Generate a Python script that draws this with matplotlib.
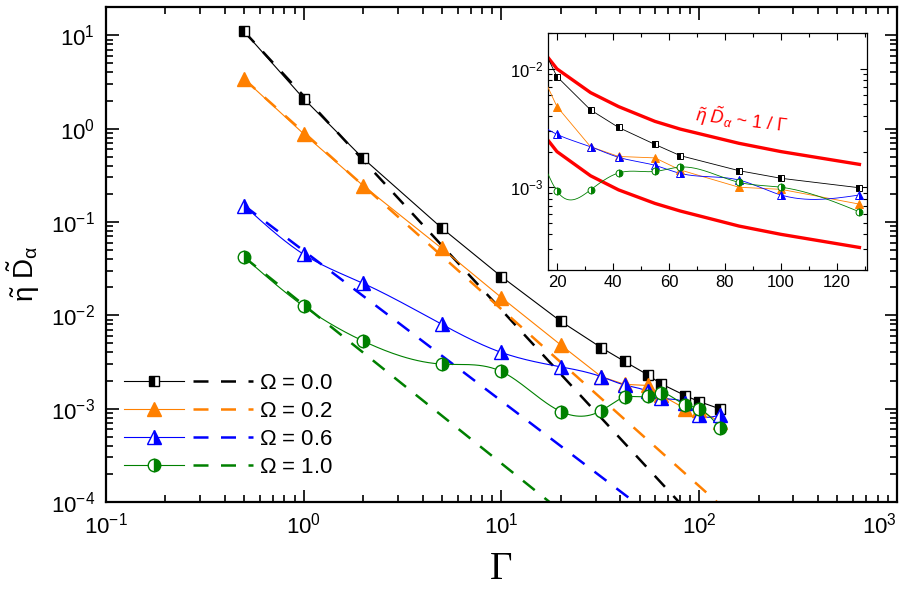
import numpy as np
import matplotlib
matplotlib.use("Agg")
import matplotlib.pyplot as plt
from matplotlib.lines import Line2D
from matplotlib.legend_handler import HandlerTuple
from matplotlib.ticker import MultipleLocator, LogLocator, NullFormatter

plt.rcParams["font.family"] = ["Liberation Sans", "DejaVu Sans"]
plt.rcParams["mathtext.fontset"] = "custom"
plt.rcParams["mathtext.rm"] = "Liberation Sans"
plt.rcParams["mathtext.it"] = "Liberation Sans:italic"
plt.rcParams["mathtext.default"] = "regular"

# data
gamma = [0.5, 1, 2, 5, 10, 20, 32, 42, 55, 64, 85, 100, 128]
d_w00 = [11.0, 2.1, 0.48, 0.086, 0.026, 8.6e-3, 4.5e-3, 3.2e-3, 2.3e-3, 1.85e-3, 1.38e-3, 1.19e-3, 9.9e-4]
d_w02 = [3.4, 0.88, 0.245, 0.052, 0.0155, 4.8e-3, 2.2e-3, 1.82e-3, 1.77e-3, 1.4e-3, 1.0e-3, 9.6e-4, 7.2e-4]
d_w06 = [0.15, 0.045, 0.022, 8.0e-3, 4.0e-3, 2.8e-3, 2.2e-3, 1.79e-3, 1.53e-3, 1.31e-3, 1.15e-3, 8.6e-4, 8.6e-4]
d_w10 = [0.042, 0.0125, 5.3e-3, 3.0e-3, 2.5e-3, 9.3e-4, 9.5e-4, 1.32e-3, 1.36e-3, 1.48e-3, 1.1e-3, 1.0e-3, 6.2e-4]

# dashed power-law fits (end points)
fit_w00_x, fit_w00_y = [0.5, 79], [11.0, 1e-4]
fit_w02_x, fit_w02_y = [0.5, 123], [3.4, 1e-4]
fit_w06_x, fit_w06_y = [0.5, 47], [0.15, 1e-4]
fit_w10_x, fit_w10_y = [0.5, 17.5], [0.042, 1e-4]

# red 1/Gamma guides in the inset
guide_x = [10, 20, 32, 42, 55, 64, 85, 100, 128]
guide_hi = [0.02, 0.01, 6.3e-3, 4.8e-3, 3.6e-3, 3.1e-3, 2.35e-3, 2.0e-3, 1.56e-3]
guide_lo = [4e-3, 2e-3, 1.25e-3, 9.5e-4, 7.3e-4, 6.3e-4, 4.7e-4, 4.0e-4, 3.1e-4]

x_major = [0.1, 1, 10, 100, 1000]
labels = [r"$\Omega$ = 0.0", r"$\Omega$ = 0.2", r"$\Omega$ = 0.6", r"$\Omega$ = 1.0"]
ORANGE = "#ff8000"
GREEN = "#008000"


def spline(x, y, n=30):
    # natural cubic spline, used only to draw the smooth connecting lines
    x = np.asarray(x, float)
    y = np.asarray(y, float)
    k = len(x)
    h = np.diff(x)
    A = np.zeros((k, k))
    r = np.zeros(k)
    A[0, 0] = A[-1, -1] = 1
    for i in range(1, k - 1):
        A[i, i - 1] = h[i - 1]
        A[i, i] = 2 * (h[i - 1] + h[i])
        A[i, i + 1] = h[i]
        r[i] = 3 * ((y[i + 1] - y[i]) / h[i] - (y[i] - y[i - 1]) / h[i - 1])
    c = np.linalg.solve(A, r)
    xs, ys = [], []
    for i in range(k - 1):
        t = np.linspace(0, h[i], n)
        b = (y[i + 1] - y[i]) / h[i] - h[i] * (2 * c[i] + c[i + 1]) / 3
        d = (c[i + 1] - c[i]) / (3 * h[i])
        xs.append(x[i] + t)
        ys.append(y[i] + b * t + c[i] * t ** 2 + d * t ** 3)
    return np.concatenate(xs), np.concatenate(ys)


styles = [
    dict(color="k", marker="s", mfc="k", mfcalt="w", fill="left", ms=7.5, smooth=False),
    dict(color=ORANGE, marker="^", mfc=ORANGE, mfcalt=ORANGE, fill="full", ms=10, smooth=False),
    dict(color="b", marker="^", mfc="b", mfcalt="w", fill="right", ms=10, smooth=True),
    dict(color=GREEN, marker="o", mfc=GREEN, mfcalt="w", fill="right", ms=9, smooth=True),
]
series = [d_w00, d_w02, d_w06, d_w10]
fits = [(fit_w00_x, fit_w00_y), (fit_w02_x, fit_w02_y), (fit_w06_x, fit_w06_y), (fit_w10_x, fit_w10_y)]

fig = plt.figure(figsize=(9.05, 6.04), dpi=100)
ax = fig.add_axes([0.117, 0.169, 0.874, 0.819])

handles = []
for st, d, (fx, fy) in zip(styles, series, fits):
    ax.plot(fx, fy, ls=(0, (6, 5)), lw=1.8, color=st["color"], zorder=2)
    if st["smooth"]:
        sx, sy = spline(np.log10(gamma), np.log10(d))
        ax.plot(10 ** sx, 10 ** sy, color=st["color"], lw=0.8, zorder=3)
    else:
        ax.plot(gamma, d, color=st["color"], lw=0.8, zorder=3)
    mk = dict(marker=st["marker"], ms=st["ms"], fillstyle=st["fill"], markerfacecolor=st["mfc"],
              markerfacecoloralt=st["mfcalt"], markeredgecolor=st["color"], markeredgewidth=1.0)
    ax.plot(gamma, d, ls="none", zorder=4, **mk)
    h1 = Line2D([], [], color=st["color"], lw=0.8, **mk)
    h2 = Line2D([], [], color=st["color"], lw=1.8, ls=(0, (6, 5)))
    handles.append((h1, h2))

ax.set_xscale("log")
ax.set_yscale("log")
ax.set_xticks(x_major)
ax.set_xlim(0.1, 1000)
ax.set_ylim(1e-4, 20)
ax.tick_params(which="both", direction="in", top=True, right=True, labelsize=16, width=1.2)
ax.tick_params(which="major", length=9, pad=8)
ax.tick_params(which="minor", length=5)
ax.yaxis.set_major_locator(LogLocator(10, numticks=10))
ax.xaxis.set_minor_locator(LogLocator(10, subs=np.arange(2, 10), numticks=20))
ax.yaxis.set_minor_locator(LogLocator(10, subs=np.arange(2, 10), numticks=20))
ax.xaxis.set_minor_formatter(NullFormatter())
ax.yaxis.set_minor_formatter(NullFormatter())
for s in ax.spines.values():
    s.set_linewidth(1.6)

ax.set_xlabel("Γ", fontsize=28, family="Liberation Serif", labelpad=9)
ax.set_ylabel(r"$\tilde{\eta}\ \tilde{D}_{\alpha}$", fontsize=20)
ax.yaxis.set_label_coords(-0.081, 0.46)

ax.legend(handles, labels, handler_map={tuple: HandlerTuple(ndivide=None, pad=0.4)},
          loc="lower left", bbox_to_anchor=(0.012, 0.03), frameon=False, fontsize=16,
          handlelength=5.8, handletextpad=0.25, labelspacing=0.32, borderaxespad=0)

# inset
ins = fig.add_axes([0.6055, 0.553, 0.3525, 0.392])
ins.plot(guide_x, guide_hi, color="r", lw=2.4, zorder=2)
ins.plot(guide_x, guide_lo, color="r", lw=2.4, zorder=2)
for st, d in zip(styles, series):
    if st["smooth"]:
        sx, sy = spline(gamma, np.log10(d), n=60)
        ins.plot(sx, 10 ** sy, color=st["color"], lw=0.6, zorder=3)
    else:
        ins.plot(gamma, d, color=st["color"], lw=0.6, zorder=3)
    ins.plot(gamma, d, ls="none", marker=st["marker"], ms=st["ms"] * 0.55, fillstyle=st["fill"],
             markerfacecolor=st["mfc"], markerfacecoloralt=st["mfcalt"],
             markeredgecolor=st["color"], markeredgewidth=0.7, zorder=4)
ins.set_yscale("log")
ins.set_xlim(16.8, 130.7)
ins.set_ylim(2e-4, 2e-2)
ins.xaxis.set_major_locator(MultipleLocator(20))
ins.xaxis.set_minor_locator(MultipleLocator(10))
ins.yaxis.set_major_locator(LogLocator(10, numticks=10))
ins.yaxis.set_minor_locator(LogLocator(10, subs=np.arange(2, 10), numticks=20))
ins.yaxis.set_minor_formatter(NullFormatter())
ins.tick_params(which="both", direction="in", top=True, right=True, labelsize=12, width=0.8)
ins.tick_params(which="major", length=5)
ins.tick_params(which="minor", length=3)
for s in ins.spines.values():
    s.set_linewidth(0.9)
ins.text(86, 3.7e-3, r"$\tilde{\eta}\ \tilde{D}_{\alpha}$ ~ $\mathit{1\ /\ \Gamma}$", color="r",
         fontsize=13, fontstyle="italic", rotation=-7, ha="center", va="center")

# keep the 10^3 label inside the figure, as in the original
fig.canvas.draw()
for tick in ax.xaxis.get_major_ticks():
    if np.isclose(tick.get_loc(), 1000):
        tick.label1.set_horizontalalignment("right")

fig.savefig("out.png", dpi=100)
